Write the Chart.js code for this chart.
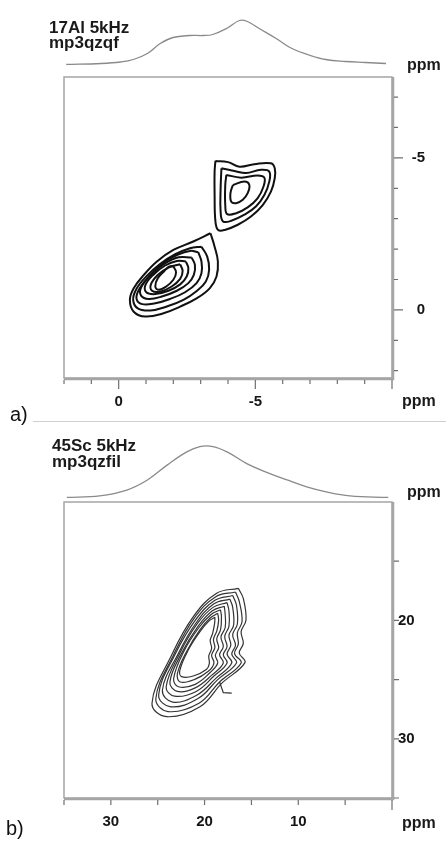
<!DOCTYPE html>
<html>
<head>
<meta charset="utf-8">
<script src="https://cdn.jsdelivr.net/npm/chart.js@4.4.0/dist/chart.umd.min.js"></script>
<style>
  body { margin: 0; background: #fff; font-family: "Liberation Sans", Arial, sans-serif; }
  #page { position: relative; width: 446px; height: 842px; overflow: hidden; }
  canvas { position: absolute; left: 0; }
  .lbl { position: absolute; font-weight: bold; color: #1a1a1a; white-space: nowrap; font-size: 16px; line-height: 16px; }
  .title { font-size: 17px; line-height: 15px; }
  .panel { position: absolute; font-size: 20px; line-height: 20px; color: #111; }
  .rule { position: absolute; left: 33px; top: 421px; width: 413px; height: 1px; background: #cfcfcf; }
</style>
</head>
<body>
<div id="page">
  <canvas id="projAl" width="446" height="70" style="top:0px"></canvas>
  <canvas id="mapAl" width="446" height="350" style="top:70px"></canvas>
  <canvas id="projSc" width="446" height="72" style="top:430px"></canvas>
  <canvas id="mapSc" width="446" height="350" style="top:490px"></canvas>

  <div class="lbl title" style="left:49px;top:20px">17Al 5kHz<br>mp3qzqf</div>
  <div class="lbl" style="left:407px;top:57px">ppm</div>
  <div class="lbl" style="left:402px;top:393px">ppm</div>
  <div class="panel" style="left:10px;top:404px">a)</div>
  <div class="rule"></div>

  <div class="lbl title" style="left:52px;top:438px;line-height:16px">45Sc 5kHz<br>mp3qzfil</div>
  <div class="lbl" style="left:407px;top:484px">ppm</div>
  <div class="lbl" style="left:402px;top:815px">ppm</div>
  <div class="panel" style="left:6px;top:818px">b)</div>
</div>

<script>
// axis ranges and ticks (ppm)
const xRangeAl = [-10, 2];
const yRangeAl = [-7.66, 2.24];
const xTicksAl = [2, 1, 0, -1, -2, -3, -4, -5, -6, -7, -8, -9, -10];
const yTicksAl = [-7, -6, -5, -4, -3, -2, -1, 0, 1, 2];
const xLabelsAl = [0, -5];
const yLabelsAl = [-5, 0];

const xRangeSc = [0, 35];
const yRangeSc = [10, 35];
const xTicksSc = [35, 30, 25, 20, 15, 10, 5, 0];
const yTicksSc = [15, 20, 25, 30, 35];
const xLabelsSc = [30, 20, 10];
const yLabelsSc = [20, 30];

// 1D projections (ppm, relative intensity)
const projAlPpm = [1.92, 0.65, -0.07, -0.54, -1.05, -1.52, -1.99, -2.61, -3.08, -3.44, -3.95, -4.42, -4.71, -5.14, -5.76, -6.34, -6.96, -7.57, -8.30, -9.02, -9.78];
const projAlInt = [0.01, 0.03, 0.06, 0.11, 0.23, 0.43, 0.55, 0.59, 0.59, 0.61, 0.73, 0.89, 0.87, 0.73, 0.53, 0.33, 0.20, 0.11, 0.07, 0.05, 0.03];
const projScPpm = [34.7, 31.2, 28.3, 26.1, 24.0, 21.9, 20.5, 19.1, 17.6, 15.5, 13.3, 11.2, 9.1, 6.9, 4.5, 0.4];
const projScInt = [0.01, 0.04, 0.15, 0.34, 0.62, 0.87, 0.97, 0.97, 0.87, 0.65, 0.48, 0.34, 0.21, 0.11, 0.04, 0.01];

// 27Al contours, lower site (outer -> inner), [F2 ppm, F1 ppm]
const alLow0 = [[-3.36,-2.52],[-3.51,-2.08],[-3.63,-1.59],[-3.58,-1.10],[-3.33,-0.71],[-2.85,-0.38],[-2.25,-0.11],[-1.64,0.11],[-0.98,0.22],[-0.55,0.06],[-0.41,-0.33],[-0.55,-0.71],[-0.92,-1.15],[-1.40,-1.59],[-2.00,-1.97],[-2.73,-2.25]];
const alLow1 = [[-3.03,-2.08],[-3.24,-1.75],[-3.31,-1.32],[-3.19,-0.93],[-2.87,-0.63],[-2.37,-0.33],[-1.76,-0.11],[-1.16,0.02],[-0.70,-0.05],[-0.53,-0.33],[-0.65,-0.69],[-1.01,-1.10],[-1.50,-1.50],[-2.07,-1.83],[-2.61,-2.03]];
const alLow2 = [[-2.91,-1.90],[-3.03,-1.59],[-3.03,-1.21],[-2.85,-0.88],[-2.43,-0.58],[-1.88,-0.36],[-1.34,-0.22],[-0.86,-0.19],[-0.65,-0.38],[-0.77,-0.71],[-1.14,-1.13],[-1.62,-1.54],[-2.15,-1.81],[-2.61,-1.94]];
const alLow3 = [[-2.67,-1.72],[-2.79,-1.48],[-2.75,-1.15],[-2.55,-0.88],[-2.13,-0.63],[-1.58,-0.44],[-1.10,-0.36],[-0.82,-0.47],[-0.82,-0.73],[-1.16,-1.13],[-1.64,-1.50],[-2.19,-1.73]];
const alLow4 = [[-2.46,-1.59],[-2.55,-1.37],[-2.49,-1.10],[-2.25,-0.84],[-1.82,-0.63],[-1.34,-0.52],[-1.01,-0.58],[-0.98,-0.82],[-1.26,-1.15],[-1.70,-1.46],[-2.13,-1.61]];
const alLow5 = [[-2.25,-1.50],[-2.34,-1.28],[-2.25,-1.02],[-1.94,-0.77],[-1.52,-0.60],[-1.22,-0.63],[-1.18,-0.84],[-1.43,-1.15],[-1.82,-1.39]];
const alLow6 = [[-2.00,-1.43],[-2.10,-1.24],[-2.00,-0.99],[-1.74,-0.77],[-1.46,-0.66],[-1.34,-0.77],[-1.43,-1.04],[-1.67,-1.28],[-1.86,-1.43]];

// 27Al contours, upper site
const alUp0 = [[-3.54,-4.90],[-4.00,-4.86],[-4.42,-4.71],[-4.96,-4.79],[-5.57,-4.82],[-5.71,-4.66],[-5.71,-4.33],[-5.57,-3.89],[-5.27,-3.45],[-4.84,-3.07],[-4.36,-2.80],[-3.88,-2.63],[-3.64,-2.63],[-3.54,-2.91],[-3.51,-3.78],[-3.51,-4.55]];
const alUp1 = [[-3.76,-4.66],[-4.24,-4.57],[-4.66,-4.50],[-5.21,-4.61],[-5.51,-4.55],[-5.51,-4.22],[-5.33,-3.78],[-5.02,-3.40],[-4.60,-3.13],[-4.12,-2.93],[-3.82,-2.91],[-3.73,-3.23],[-3.73,-4.00]];
const alUp2 = [[-3.94,-4.44],[-4.48,-4.35],[-5.08,-4.42],[-5.33,-4.35],[-5.30,-4.06],[-5.08,-3.67],[-4.72,-3.37],[-4.30,-3.18],[-3.97,-3.15],[-3.90,-3.45],[-3.90,-4.11]];
const alUp3 = [[-4.18,-4.11],[-4.60,-4.22],[-4.78,-4.11],[-4.72,-3.84],[-4.54,-3.62],[-4.30,-3.51],[-4.12,-3.56],[-4.09,-3.84]];

// 45Sc contours (outer -> inner), wavy right flank
const scK0 = [[16.40,17.29],[15.87,18.14],[15.58,19.97],[16.1,20.95],[15.87,21.94],[16.3,22.75],[15.69,23.57],[18.18,25.32],[20.49,27.29],[24.05,28.13],[25.61,27.00],[23.51,22.92],[21.20,19.68],[18.71,17.71]];
const scK1 = [[16.7,17.6],[16.3,18.4],[16.0,20.1],[16.5,21.05],[16.4,22.0],[16.8,22.8],[16.1,23.6],[18.4,25.2],[20.6,27.0],[23.9,27.7],[25.2,26.6],[23.3,22.9],[21.1,19.8],[18.8,18.0]];
const scK2 = [[17.0,17.9],[16.6,18.7],[16.5,20.3],[17.0,21.2],[16.7,22.1],[17.1,22.85],[16.6,23.6],[18.6,25.0],[20.7,26.6],[23.6,27.3],[24.9,26.3],[23.1,22.8],[21.0,20.0],[18.9,18.3]];
const scK3 = [[17.3,18.2],[17.0,18.9],[16.9,20.4],[17.4,21.25],[17.2,22.1],[17.6,22.85],[17.1,23.6],[18.8,24.9],[20.8,26.3],[23.4,26.9],[24.5,25.9],[22.8,22.8],[20.9,20.2],[19.0,18.6]];
const scK4 = [[17.6,18.5],[17.4,19.2],[17.4,20.5],[17.85,21.35],[17.6,22.2],[18.0,22.9],[17.6,23.6],[19.0,24.7],[20.9,26.0],[23.2,26.4],[24.1,25.6],[22.6,22.7],[20.8,20.3],[19.1,18.9]];
const scK5 = [[17.9,18.8],[17.8,19.5],[17.8,20.6],[18.25,21.4],[18.0,22.2],[18.4,22.9],[18.0,23.6],[19.2,24.6],[21.0,25.7],[22.9,26.0],[23.7,25.2],[22.4,22.7],[20.7,20.5],[19.2,19.2]];
const scK6 = [[18.3,19.1],[18.2,19.7],[18.3,20.8],[18.7,21.55],[18.5,22.3],[18.85,22.95],[18.6,23.6],[19.4,24.4],[21.0,25.4],[22.8,25.6],[23.3,24.9],[22.2,22.6],[20.6,20.6],[19.3,19.5]];
const scK7 = [[18.6,19.4],[18.5,20.0],[18.7,20.9],[19.05,21.6],[18.9,22.3],[19.25,22.95],[19.0,23.6],[19.6,24.3],[21.1,25.0],[22.6,25.2],[22.9,24.5],[21.9,22.6],[20.5,20.8],[19.4,19.8]];
const scK8 = [[18.89,19.74],[18.93,20.25],[19.14,21.09],[19.4,21.7],[19.25,22.36],[19.55,23.0],[19.49,23.63],[19.78,24.13],[21.20,24.70],[22.45,24.75],[22.63,24.19],[21.74,22.50],[20.49,20.95],[19.49,20.02]];
const scTail = [[18.4,25.2],[18.0,26.1],[17.1,26.15]];

Chart.defaults.font.family = '"Liberation Sans", Arial, sans-serif';

// frame + hand-drawn tick marks
const axisFrame = {
  id: 'axisFrame',
  afterDraw(chart, args, opts) {
    const { ctx, chartArea: a, scales } = chart;
    ctx.save();
    ctx.strokeStyle = '#a5a5a5';
    ctx.lineWidth = 1.5;
    ctx.strokeRect(a.left, a.top, a.right - a.left, a.bottom - a.top);
    ctx.lineWidth = 2.5;
    ctx.beginPath();
    ctx.moveTo(a.right + 1, a.top);
    ctx.lineTo(a.right + 1, a.bottom + 2);
    ctx.moveTo(a.left, a.bottom + 1);
    ctx.lineTo(a.right + 2, a.bottom + 1);
    ctx.stroke();
    ctx.strokeStyle = '#6f6f6f';
    ctx.lineWidth = 1.2;
    ctx.beginPath();
    scales.x.ticks.forEach(t => {
      const p = scales.x.getPixelForValue(t.value);
      const len = opts.xMajor.includes(t.value) ? opts.majorLen : opts.minorLen;
      ctx.moveTo(p, a.bottom + 2);
      ctx.lineTo(p, a.bottom + 2 + len);
    });
    scales.y.ticks.forEach(t => {
      const p = scales.y.getPixelForValue(t.value);
      const len = opts.yMajor.includes(t.value) ? opts.majorLen : opts.minorLen;
      ctx.moveTo(a.right + 2, p);
      ctx.lineTo(a.right + 2 + len, p);
    });
    ctx.stroke();
    ctx.restore();
  }
};

let toXY = function (pts, closed) {
  let out = pts.map(p => ({ x: p[0], y: p[1] }));
  if (closed) out.push({ x: pts[0][0], y: pts[0][1] });
  return out;
};

let contourSet = function (list, color, width) {
  return list.map(pts => ({
    data: toXY(pts, true),
    showLine: true,
    borderColor: color,
    borderWidth: width,
    pointRadius: 0,
    tension: 0.4,
    fill: false
  }));
};

// rightPad/yWidth keep chartArea.right at 392 while letting the labels align
let makeMap = function (id, sets, xr, yr, xt, yt, xl, yl, yAlign, yPad, topPad, rightPad, frameOpts) {
  return new Chart(document.getElementById(id), {
    type: 'scatter',
    data: { datasets: sets },
    plugins: [axisFrame],
    options: {
      responsive: false,
      animation: false,
      layout: { padding: { left: 64, top: topPad, right: rightPad, bottom: 0 } },
      plugins: { legend: { display: false }, tooltip: { enabled: false }, axisFrame: frameOpts },
      scales: {
        x: {
          type: 'linear', position: 'bottom', reverse: true, min: xr[0], max: xr[1],
          grid: { display: false, drawTicks: false }, border: { display: false },
          afterBuildTicks: s => { s.ticks = xt.map(v => ({ value: v })); },
          afterFit: s => { s.height = 42; s.paddingLeft = 0; s.paddingRight = 0; },
          ticks: {
            autoSkip: false, maxRotation: 0, padding: 15, color: '#151515',
            font: { size: 15, weight: 'bold' },
            callback: v => xl.includes(v) ? String(v) : ''
          }
        },
        y: {
          type: 'linear', position: 'right', reverse: true, min: yr[0], max: yr[1],
          grid: { display: false, drawTicks: false }, border: { display: false },
          afterBuildTicks: s => { s.ticks = yt.map(v => ({ value: v })); },
          afterFit: s => { s.width = 54 - rightPad; s.paddingTop = 0; s.paddingBottom = 0; },
          ticks: {
            autoSkip: false, padding: yPad, crossAlign: yAlign, color: '#151515',
            font: { size: 15, weight: 'bold' },
            callback: v => yl.includes(v) ? String(v) : ''
          }
        }
      }
    }
  });
};

let makeProj = function (id, ppm, inten, xr, pad) {
  return new Chart(document.getElementById(id), {
    type: 'line',
    data: {
      datasets: [{
        data: ppm.map((v, i) => ({ x: v, y: inten[i] })),
        borderColor: '#8a8a8a', borderWidth: 1.3, pointRadius: 0, tension: 0.4, fill: false
      }]
    },
    options: {
      responsive: false,
      animation: false,
      layout: { padding: pad },
      plugins: { legend: { display: false }, tooltip: { enabled: false } },
      scales: {
        x: { type: 'linear', reverse: true, min: xr[0], max: xr[1], display: false },
        y: { min: 0, max: 1, display: false }
      }
    }
  });
};

makeProj('projAl', projAlPpm, projAlInt, xRangeAl, { left: 64, right: 54, top: 15, bottom: 5 });
makeProj('projSc', projScPpm, projScInt, xRangeSc, { left: 64, right: 54, top: 15, bottom: 4 });

makeMap('mapAl',
  contourSet([alLow0, alLow1, alLow2, alLow3, alLow4, alLow5, alLow6, alUp0, alUp1, alUp2, alUp3], '#111', 2),
  xRangeAl, yRangeAl, xTicksAl, yTicksAl, xLabelsAl, yLabelsAl, 'far', 19, 7, 21,
  { xMajor: [0, -5, -10], yMajor: [-5, 0], majorLen: 9, minorLen: 4 });

let scSets = contourSet([scK0, scK1, scK2, scK3, scK4, scK5, scK6, scK7, scK8], '#333', 1.2);
scSets.push({ data: toXY(scTail, false), showLine: true, borderColor: '#333', borderWidth: 1.2, pointRadius: 0, tension: 0 });
makeMap('mapSc', scSets,
  xRangeSc, yRangeSc, xTicksSc, yTicksSc, xLabelsSc, yLabelsSc, 'near', 6, 12, 0,
  { xMajor: [0], yMajor: [], majorLen: 10, minorLen: 5 });
</script>
</body>
</html>
